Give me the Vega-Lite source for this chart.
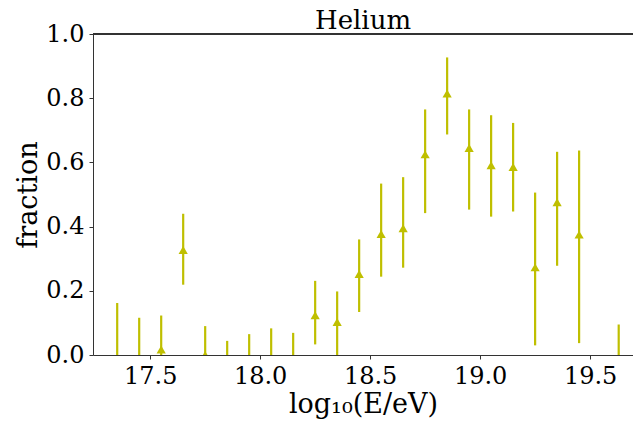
{
  "$schema": "https://vega.github.io/schema/vega-lite/v6.json",
  "autosize": {"type": "none"},
  "padding": {"left": 93, "top": 34, "right": 0, "bottom": 68},
  "width": 540,
  "height": 321,
  "background": "white",
  "title": {
    "text": "Helium",
    "font": "DejaVu Serif",
    "fontSize": 26,
    "fontWeight": "normal",
    "color": "black",
    "anchor": "middle",
    "offset": -12
  },
  "config": {
    "view": {"stroke": null},
    "axis": {
      "labelFont": "DejaVu Serif",
      "labelFontSize": 24,
      "labelColor": "black",
      "titleFont": "DejaVu Serif",
      "titleFontSize": 27,
      "titleFontWeight": "normal",
      "titleColor": "black",
      "domainColor": "#333333",
      "tickColor": "#333333",
      "tickSize": 4,
      "labelPadding": 5,
      "grid": false
    }
  },
  "data": {
    "values": [
      {"logE": 17.35, "lo": 0.0, "hi": 0.162, "frac": null},
      {"logE": 17.45, "lo": 0.0, "hi": 0.116, "frac": null},
      {"logE": 17.55, "lo": 0.0, "hi": 0.123, "frac": 0.017},
      {"logE": 17.65, "lo": 0.219, "hi": 0.44, "frac": 0.327},
      {"logE": 17.75, "lo": 0.0, "hi": 0.09, "frac": 0.0},
      {"logE": 17.85, "lo": 0.0, "hi": 0.044, "frac": null},
      {"logE": 17.95, "lo": 0.0, "hi": 0.065, "frac": null},
      {"logE": 18.05, "lo": 0.0, "hi": 0.083, "frac": null},
      {"logE": 18.15, "lo": 0.0, "hi": 0.069, "frac": null},
      {"logE": 18.25, "lo": 0.033, "hi": 0.231, "frac": 0.124},
      {"logE": 18.35, "lo": 0.0, "hi": 0.198, "frac": 0.103},
      {"logE": 18.45, "lo": 0.134, "hi": 0.36, "frac": 0.252},
      {"logE": 18.55, "lo": 0.244, "hi": 0.534, "frac": 0.377},
      {"logE": 18.65, "lo": 0.272, "hi": 0.554, "frac": 0.395},
      {"logE": 18.75, "lo": 0.442, "hi": 0.765, "frac": 0.625},
      {"logE": 18.85, "lo": 0.687, "hi": 0.927, "frac": 0.815},
      {"logE": 18.95, "lo": 0.453, "hi": 0.765, "frac": 0.645},
      {"logE": 19.05, "lo": 0.431, "hi": 0.747, "frac": 0.591},
      {"logE": 19.15, "lo": 0.447, "hi": 0.723, "frac": 0.586},
      {"logE": 19.25, "lo": 0.03, "hi": 0.506, "frac": 0.273},
      {"logE": 19.35, "lo": 0.278, "hi": 0.633, "frac": 0.476},
      {"logE": 19.45, "lo": 0.037, "hi": 0.637, "frac": 0.375},
      {"logE": 19.63, "lo": 0.0, "hi": 0.095, "frac": null}
    ]
  },
  "layer": [
    {
      "mark": {"type": "rule", "color": "#bfbf00", "strokeWidth": 2.2, "clip": true},
      "encoding": {
        "x": {
          "field": "logE",
          "type": "quantitative",
          "scale": {"domain": [17.24, 19.695], "nice": false, "zero": false},
          "axis": {
            "values": [17.5, 18.0, 18.5, 19.0, 19.5],
            "format": ".1f",
            "title": "log₁₀(E/eV)",
            "titlePadding": 3
          }
        },
        "y": {
          "field": "lo",
          "type": "quantitative",
          "scale": {"domain": [0, 1], "nice": false},
          "axis": {
            "values": [0, 0.2, 0.4, 0.6, 0.8, 1.0],
            "format": ".1f",
            "title": "fraction",
            "titlePadding": 3
          }
        },
        "y2": {"field": "hi"}
      }
    },
    {
      "mark": {"type": "point", "shape": "triangle-up", "filled": true, "opacity": 1, "color": "#bfbf00", "size": 85, "clip": true},
      "encoding": {
        "x": {"field": "logE", "type": "quantitative"},
        "y": {"field": "frac", "type": "quantitative"}
      }
    },
    {
      "mark": {"type": "rule", "color": "#333333", "strokeWidth": 1},
      "encoding": {"y": {"datum": 1}}
    }
  ]
}
